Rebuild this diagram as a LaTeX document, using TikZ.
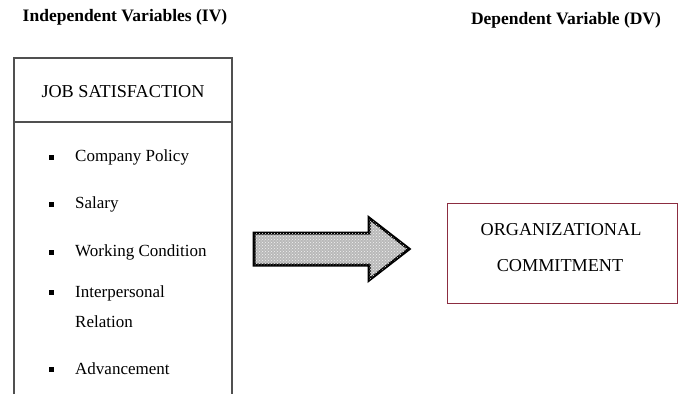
\documentclass[tikz,border=0pt]{standalone}
\usepackage{fontspec}
\setmainfont{Liberation Serif}
\usepackage{tikz}
\usetikzlibrary{patterns,positioning}

\definecolor{boxgray}{RGB}{80,80,80}
\definecolor{boxred}{RGB}{140,45,65}

\begin{document}
\begin{tikzpicture}[x=1pt, y=-1pt, every node/.style={font=\fontsize{17}{30}\selectfont},
  head/.style={font=\fontsize{17.5}{20}\selectfont\bfseries},
  caps/.style={font=\fontsize{18.2}{20}\selectfont, align=center},
  item/.style={anchor=west, align=left, inner sep=0pt},
  dot/.style={fill=black, minimum size=5pt, inner sep=0pt},
  shift arrow/.style={draw=black, line width=3pt, line join=miter, fill=gray!55,
                      postaction={pattern=crosshatch dots, pattern color=white!90!gray}}]
  \useasboundingbox (0,0) rectangle (678,394);
  % headings
  \node[head] (ivlabel) at (125,17) {Independent Variables (IV)};
  \node[head] (dvlabel) at (566,20) {Dependent Variable (DV)};
  % left box (open at the bottom)
  \draw[boxgray, line width=1.2pt] (14,394) -- (14,58) -- (232,58) -- (232,394);
  \draw[boxgray, line width=1.2pt] (14,122) -- (232,122);
  \node[caps] (job) at (123,92) {JOB SATISFACTION};
  % items
  \node[item] (policy) at (75,157) {Company Policy};
  \node[item] (salary) at (75,204) {Salary};
  \node[item] (working) at (75,252) {Working Condition};
  \node[item] (inter) at (75,307) {Interpersonal\\Relation};
  \node[item] (advance) at (75,369) {Advancement};
  \node[dot] at (51,157) {};
  \node[dot] at (51,204) {};
  \node[dot] at (51,252) {};
  \node[dot] at (51,292) {};
  \node[dot] at (51,369) {};
  % right box
  \node[draw=boxred, line width=1.2pt, minimum width=230pt, minimum height=100pt,
        anchor=north west] (dv) at (447,203) {};
  \node[caps] (org) at (561,230) {ORGANIZATIONAL};
  \node[caps] (com) at (560,266) {COMMITMENT};
  % block arrow
  \draw[shift arrow] (254,233) -- (369,233) -- (369,218) -- (409,249)
    -- (369,280) -- (369,265) -- (254,265) -- cycle;
\end{tikzpicture}
\end{document}
